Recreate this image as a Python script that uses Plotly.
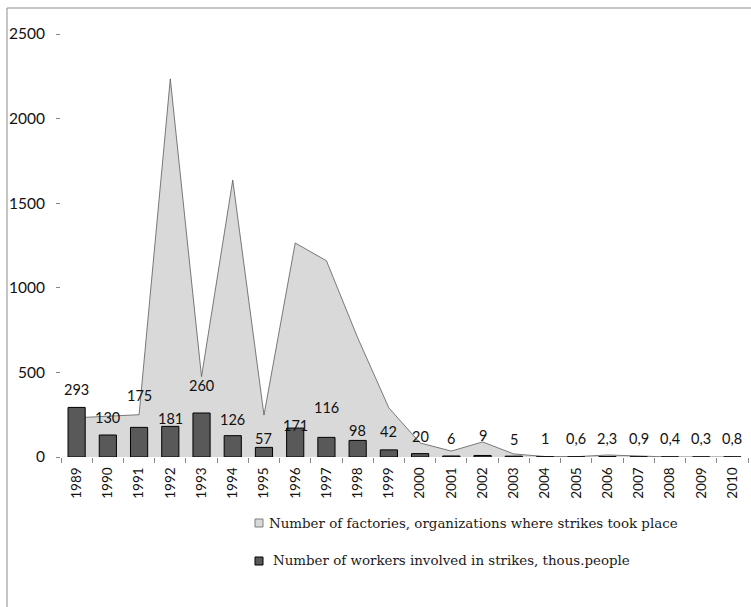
import plotly.graph_objects as go

# Strike statistics by year
years = [str(y) for y in range(1989, 2011)]
factories = [232, 242, 250, 2235, 475, 1637, 248, 1265, 1160, 705, 290,
             83, 35, 89, 18, 3, 2, 12, 4, 0, 0, 0]
workers = [293, 130, 175, 181, 260, 126, 57, 171, 116, 98, 42,
           20, 6, 9, 5, 1, 0.6, 2.3, 0.9, 0.4, 0.3, 0.8]
worker_labels = ["293", "130", "175", "181", "260", "126", "57", "171", "116", "98", "42",
                 "20", "6", "9", "5", "1", "0,6", "2,3", "0,9", "0,4", "0,3", "0,8"]
# vertical lift (px) of each value label above its bar
label_lift = [18, 18, 32, 8, 28, 16, 9, 3, 30, 10, 18,
              17, 17, 20, 17, 18, 18, 18, 18, 18, 18, 18]

legend_names = ["Number of factories, organizations where strikes took place",
                "Number of workers involved in strikes, thous.people"]

W, H = 751, 607
L, R, T, B = 61, 3, 34, 150
PW, PH = W - L - R, H - T - B


def px_x(px):
    return (px - L) / PW


def px_y(py):
    return (H - B - py) / PH


text_color = "#111111"
ytick_font = dict(family="Lato", size=15.5, color=text_color)
xtick_font = dict(family="Lato", size=13.5, color=text_color)
label_font = dict(family="Lato", size=14.5, color=text_color)
area_color = "#d9d9d9"
bar_color = "#595959"

fig = go.Figure()
fig.add_trace(go.Scatter(
    x=years, y=factories, mode="lines", fill="tozeroy",
    fillcolor=area_color, line=dict(color="#5a5a5a", width=0.8),
    name=legend_names[0], zorder=0, hoverinfo="x+y"))
fig.add_trace(go.Bar(
    x=years, y=workers, name=legend_names[1],
    marker=dict(color=bar_color, line=dict(color="#000000", width=1)),
    zorder=1))

# value labels: x given as category index
for i, (v, txt, lift) in enumerate(zip(workers, worker_labels, label_lift)):
    fig.add_annotation(x=i, y=v, text=txt, showarrow=False, yanchor="middle",
                       yshift=lift, font=label_font)

# legend drawn as swatches and text
legend_rows = [
    (519, 527, 255, 263, area_color, "#7f7f7f", 267, 523),
    (557, 565, 255, 263, bar_color, "#000000", 271, 560),
]
for (y0, y1, x0, x1, fc, lc, tx, ty), name in zip(legend_rows, legend_names):
    fig.add_shape(type="rect", xref="paper", yref="paper",
                  x0=px_x(x0), x1=px_x(x1), y0=px_y(y1), y1=px_y(y0),
                  fillcolor=fc, line=dict(color=lc, width=1))
    fig.add_annotation(xref="paper", yref="paper", x=px_x(tx), y=px_y(ty),
                       xanchor="left", yanchor="middle", showarrow=False, text=name,
                       font=dict(family="DejaVu Serif", size=13.4, color="#1a1a1a"))

# outer chart frame (top and left edges)
frame = dict(color="#8c8c8c", width=1)
fig.add_shape(type="line", xref="paper", yref="paper",
              x0=px_x(7), x1=px_x(W + 2), y0=px_y(8), y1=px_y(8), line=frame)
fig.add_shape(type="line", xref="paper", yref="paper",
              x0=px_x(7), x1=px_x(7), y0=px_y(8), y1=px_y(H + 2), line=frame)

fig.update_layout(
    width=W, height=H,
    margin=dict(l=L, r=R, t=T, b=B),
    paper_bgcolor="white", plot_bgcolor="white",
    showlegend=False, bargap=0.45,
    font=label_font,
)
fig.update_xaxes(type="category", range=[-0.5, len(years) - 0.5],
                 showgrid=False, showline=True,
                 linecolor="#868686", linewidth=1, ticks="outside",
                 tickson="boundaries", ticklen=5, tickcolor="#868686",
                 tickangle=-90, tickfont=xtick_font, ticklabelstandoff=4)
fig.update_yaxes(range=[0, 2500], dtick=500, showgrid=False, zeroline=False,
                 showline=True, linecolor="#868686", linewidth=1,
                 ticks="outside", ticklen=4, tickcolor="#868686",
                 tickfont=ytick_font, ticklabelstandoff=8)

fig.write_html("out.html")
